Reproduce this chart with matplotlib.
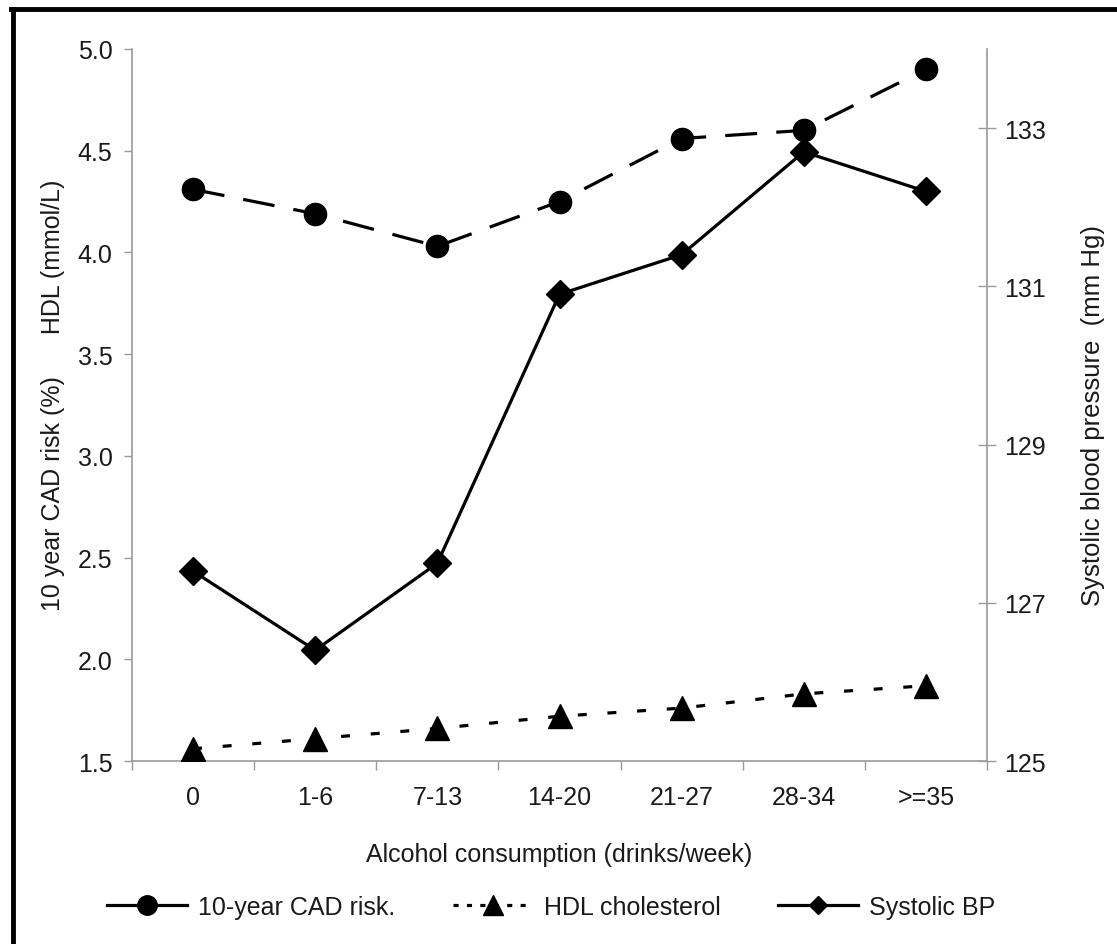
import numpy as np
import matplotlib
matplotlib.use('Agg')
import matplotlib.pyplot as plt
from matplotlib.lines import Line2D

# data
categories = ["0", "1-6", "7-13", "14-20", "21-27", "28-34", ">=35"]
cad_risk = [4.31, 4.19, 4.03, 4.25, 4.56, 4.60, 4.90]      # 10-year CAD risk (%)
hdl = [1.56, 1.61, 1.66, 1.72, 1.76, 1.83, 1.87]           # HDL (mmol/L)
systolic_bp = [127.4, 126.4, 127.5, 130.9, 131.4, 132.7, 132.2]  # mm Hg

left_ticks = [1.5, 2.0, 2.5, 3.0, 3.5, 4.0, 4.5, 5.0]
right_ticks = [125, 127, 129, 131, 133]

plt.rcParams['font.family'] = ['Liberation Sans', 'DejaVu Sans']
TXT = '#1a1a1a'
SPINE = '#9a9a9a'
FS = 18

W, H = 1117, 945
fig = plt.figure(figsize=(W / 100, H / 100), dpi=100)
ax = fig.add_axes([132 / W, 1 - 762 / H, (987 - 132) / W, (762 - 50) / H])
ax2 = ax.twinx()

x = np.arange(len(categories))

# CAD risk - long dashes, circles
l1, = ax.plot(x, cad_risk, color='black', lw=2.3, marker='o', ms=16, zorder=3)
l1.set_dashes([10, 6])
# HDL - short dashes, triangles
l2, = ax.plot(x, hdl, color='black', lw=2.3, marker='^', ms=17, zorder=3)
l2.set_dashes([2.8, 6.5])
# systolic BP on right axis - solid, diamonds
ax2.plot(x, systolic_bp, color='black', lw=2.3, marker='D', ms=14, zorder=3)

ax.set_xlim(-0.5, len(categories) - 0.5)
ax.set_ylim(1.5, 5.0)
ax2.set_ylim(125, 134)

ax.set_yticks(left_ticks)
ax.set_yticklabels([f"{v:.1f}" for v in left_ticks])
ax2.set_yticks(right_ticks)
ax2.set_yticklabels([str(v) for v in right_ticks])

# boundary ticks on the x axis, labels centred on categories
ax.set_xticks(np.arange(-0.5, len(categories), 1.0))
ax.set_xticklabels([])
ax.set_xticks(x, minor=True)
ax.set_xticklabels(categories, minor=True)

ax.tick_params(axis='y', direction='out', length=6, width=1, color=SPINE,
               labelsize=FS, labelcolor=TXT, pad=8)
ax.tick_params(axis='x', which='major', direction='out', length=6.5, width=1, color=SPINE)
ax.tick_params(axis='x', which='minor', length=0, labelsize=FS, labelcolor=TXT, pad=17)
ax2.tick_params(axis='y', direction='inout', length=13, width=1, color=SPINE,
                labelsize=FS, labelcolor=TXT, pad=6)

for a in (ax, ax2):
    a.spines['top'].set_visible(False)
    for s in a.spines.values():
        s.set_color(SPINE)
        s.set_linewidth(1.2)
ax2.spines['left'].set_visible(False)
ax2.spines['bottom'].set_visible(False)
ax.spines['right'].set_visible(False)

ax.set_xlabel("Alcohol consumption (drinks/week)", fontsize=FS, color=TXT, labelpad=24)

fig.text(53 / W, 1 - 395 / H, "10 year CAD risk (%)      HDL (mmol/L)", rotation=90,
         ha='center', va='center', fontsize=FS, color=TXT)
fig.text(1093 / W, 1 - 416 / H, "Systolic blood pressure  (mm Hg)", rotation=90,
         ha='center', va='center', fontsize=18.5, color=TXT)

# legend (the CAD risk entry is drawn with a solid line in the original)
h1 = Line2D([], [], color='black', lw=2.3, marker='o', ms=14)
h2 = Line2D([], [], color='black', lw=2.3, marker='^', ms=14, dashes=[1.6, 2.6])
h3 = Line2D([], [], color='black', lw=2.3, marker='D', ms=9)
fig.legend([h1, h2, h3], ["10-year CAD risk.", "HDL cholesterol", "Systolic BP"],
           loc='center', bbox_to_anchor=(551 / W, 1 - 908 / H), ncol=3, frameon=False,
           fontsize=FS, labelcolor=TXT, handlelength=3.2, handletextpad=0.45,
           columnspacing=2.3)

# frame lines visible at the left and top of the original
fig.add_artist(Line2D([12.5 / W, 12.5 / W], [0, 1 - 9.5 / H], color='black', lw=3.5,
                      transform=fig.transFigure))
fig.add_artist(Line2D([10.5 / W, 1], [1 - 9.5 / H, 1 - 9.5 / H], color='black', lw=3.5,
                      transform=fig.transFigure))

fig.savefig("out.png", dpi=100)
